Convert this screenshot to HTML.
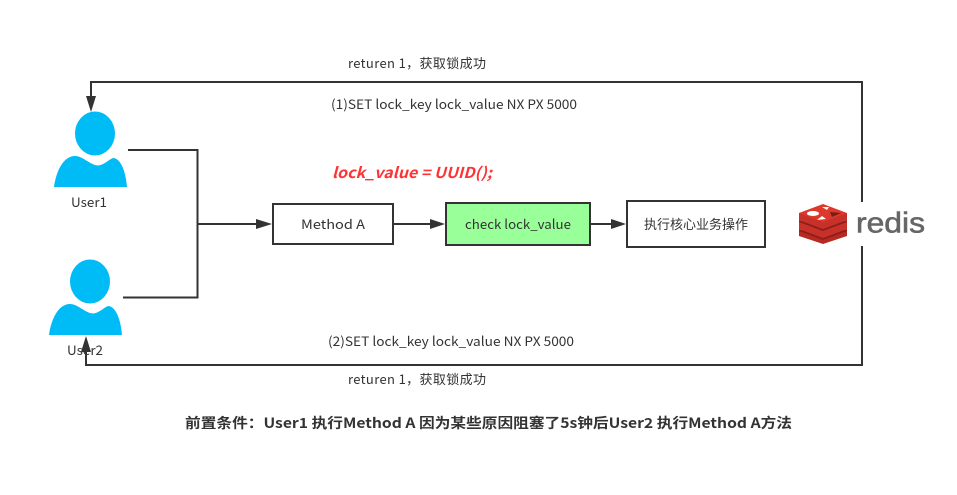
<!DOCTYPE html>
<html><head><meta charset="utf-8"><style>
html,body{margin:0;padding:0;background:#fff}
svg{display:block}
text{font-family:"Noto Sans CJK SC","Liberation Sans",sans-serif;fill:#333;font-size:13px}
</style></head><body>
<svg width="957" height="495" viewBox="0 0 957 495" xmlns="http://www.w3.org/2000/svg">
<rect width="957" height="495" fill="#fff"/>
<g fill="#00bcf6">
<ellipse cx="95" cy="133.500" rx="20" ry="22"/>
<path d="M54 187C56 172 63 156 75 156C83 156 90 165 98 165.500C105 165 110 158 114 158C122 160 126 174 127 187Z"/>
<ellipse cx="90" cy="281.500" rx="20" ry="22"/>
<path d="M49 335C51 320 58 304 70 304C78 304 85 313 93 313.500C100 313 105 306 109 306C117 308 121 322 122 335Z"/>
</g>
<g fill="none" stroke="#333" stroke-width="2">
<path d="M91 98V82H862V202"/>
<path d="M862 246V365H86V350"/>
<path d="M128 150H197.500V297.500H123"/>
<path d="M197 224H258"/>
<path d="M393 224H432"/>
<path d="M590 224H613"/>
<rect x="273" y="204" width="120" height="40" fill="#fff"/>
<rect x="446" y="203" width="144" height="42" fill="#99ff99"/>
<rect x="627" y="201" width="138" height="46" fill="#fff"/>
</g>
<g fill="#333">
<path d="M86 96H96L91 112Z"/>
<path d="M81 352H91L86 336Z"/>
<path d="M256 219L272 224L256 229Z"/>
<path d="M430 219L445 224L430 229Z"/>
<path d="M611 219L626 224L611 229Z"/>
</g>
<g>
<path d="M799 231L823 222L847 231V236L823 244L799 236Z" fill="#b52a22"/>
<path d="M799 229L823 238L847 229V231L823 240L799 231Z" fill="#8e1e18"/>
<path d="M799 222L823 213L847 222V229L823 238L799 229Z" fill="#c8302a"/>
<path d="M799 220L823 229L847 220V222L823 231L799 222Z" fill="#8e1e18"/>
<path d="M799 213V220L823 229L847 220V213Z" fill="#c8302a"/>
<path d="M799 213L823 204L847 213L823 222Z" fill="#dc382c"/>
<ellipse cx="813" cy="213.500" rx="6" ry="2.500" fill="#fff"/>
<path d="M822 207L829 207L827 210Z" fill="#fff"/>
<path d="M817 220L826 219L822 216Z" fill="#fff"/>
<path d="M830 212L841 213L832 217Z" fill="#7a1c15"/>
</g>
<text x="856" y="232.500" style="font-size:29px;fill:#666;stroke:#666;stroke-width:.6px;font-family:'Liberation Sans',sans-serif" textLength="69" lengthAdjust="spacingAndGlyphs">redis</text>
<text x="348" y="68" textLength="138" lengthAdjust="spacing">returen 1，获取锁成功</text>
<text x="331" y="109" textLength="246" lengthAdjust="spacingAndGlyphs">(1)SET lock_key lock_value NX PX 5000</text>
<text x="328" y="346" textLength="246" lengthAdjust="spacingAndGlyphs">(2)SET lock_key lock_value NX PX 5000</text>
<text x="348" y="384" textLength="138" lengthAdjust="spacing">returen 1，获取锁成功</text>
<text x="332" y="178" textLength="160" lengthAdjust="spacingAndGlyphs" style="font-size:15px;font-weight:bold;font-style:italic;fill:#ff3333">lock_value = UUID();</text>
<text x="71" y="207" textLength="36" lengthAdjust="spacingAndGlyphs">User1</text>
<text x="67" y="355" textLength="36" lengthAdjust="spacingAndGlyphs">User2</text>
<text x="301" y="229" textLength="64" lengthAdjust="spacingAndGlyphs">Method A</text>
<text x="465" y="229" textLength="106" lengthAdjust="spacingAndGlyphs">check lock_value</text>
<text x="644" y="229" textLength="104" lengthAdjust="spacing">执行核心业务操作</text>
<text x="185" y="428" textLength="607" lengthAdjust="spacingAndGlyphs" style="font-size:14px;font-weight:bold">前置条件：User1 执行Method A 因为某些原因阻塞了5s钟后User2 执行Method A方法</text>
</svg>
</body></html>
